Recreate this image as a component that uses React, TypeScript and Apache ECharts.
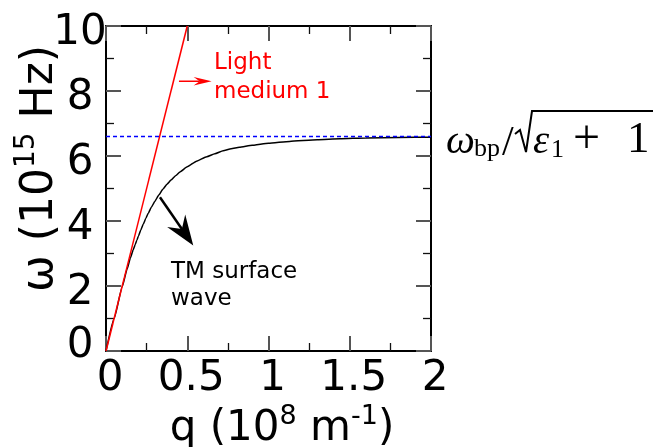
import React, { useEffect, useRef } from "react";
import * as echarts from "echarts";

// TM surface wave dispersion (q in 1e8 m^-1, omega in 1e15 Hz)
const curveQ = [0, 0.05, 0.1, 0.13, 0.15, 0.168, 0.18, 0.19, 0.2, 0.215, 0.23, 0.245, 0.26, 0.28, 0.3, 0.325, 0.35, 0.375, 0.4, 0.43, 0.455, 0.5, 0.557, 0.62, 0.67, 0.721, 0.77, 0.82, 0.9, 1.0, 1.13, 1.3, 1.44, 1.6, 1.8, 2.0];
const curveW = [0, 1.0, 1.98, 2.52, 2.86, 3.12, 3.28, 3.41, 3.54, 3.73, 3.91, 4.08, 4.24, 4.43, 4.6, 4.8, 4.98, 5.13, 5.26, 5.4, 5.51, 5.67, 5.84, 5.98, 6.07, 6.16, 6.22, 6.27, 6.33, 6.39, 6.45, 6.5, 6.53, 6.555, 6.57, 6.58];
// light line in medium 1
const lightQ = [0, 0.5];
const lightW = [0, 10];
// asymptote omega_bp / sqrt(eps1 + 1)
const bpQ = [0, 2];
const bpW = [6.6, 6.6];
// annotation arrows (data coords): [start, tip]
const lightArrow = [[0.449, 8.3], [0.65, 8.3]];
const tmArrow = [[0.332, 4.73], [0.537, 3.25]];

const xTickValues = [0, 0.5, 1, 1.5, 2];
const yTickValues = [0, 2, 4, 6, 8, 10];

const SANS = '"DejaVu Sans", sans-serif';
const SERIF = '"Liberation Serif", serif';

function arrowEls(p0: number[], p1: number[], color: string, width: number, headLen: number, halfW: number, notch: number) {
  const dx = p1[0] - p0[0];
  const dy = p1[1] - p0[1];
  const L = Math.hypot(dx, dy);
  const ux = dx / L, uy = dy / L;
  const nx = -uy, ny = ux;
  const bx = p1[0] - ux * headLen, by = p1[1] - uy * headLen;
  const w1 = [bx + nx * halfW, by + ny * halfW];
  const w2 = [bx - nx * halfW, by - ny * halfW];
  const nt = [p1[0] - ux * notch, p1[1] - uy * notch];
  return [
    { type: "line", silent: true, shape: { x1: p0[0], y1: p0[1], x2: nt[0], y2: nt[1] }, style: { stroke: color, lineWidth: width } },
    { type: "polygon", silent: true, shape: { points: [p1, w1, nt, w2] }, style: { fill: color } },
  ];
}

export default function App() {
  const ref = useRef<HTMLDivElement>(null);
  useEffect(() => {
    const chart = echarts.init(ref.current!, null, { renderer: "svg" });
    const axisLine = { show: true, onZero: false, lineStyle: { color: "#000", width: 2 } };
    const axisTick = { show: true, inside: true, length: 15, lineStyle: { color: "#555", width: 2 } };
    const minorTick = { show: true, splitNumber: 2, length: 8, lineStyle: { color: "#111", width: 1.3 } };
    const xCommon = {
      type: "value", min: xTickValues[0], max: xTickValues[xTickValues.length - 1], interval: 0.5,
      axisLine, axisTick, minorTick, splitLine: { show: false }, minorSplitLine: { show: false },
    };
    const yCommon = {
      type: "value", min: yTickValues[0], max: yTickValues[yTickValues.length - 1], interval: 2,
      axisLine, axisTick, minorTick, splitLine: { show: false }, minorSplitLine: { show: false },
    };
    const option: any = {
      animation: false,
      grid: { left: 106, right: 222, top: 26, bottom: 96 },
      xAxis: [
        {
          ...xCommon, position: "bottom",
          axisLabel: { show: true, interval: 0, margin: 3, fontSize: 42, fontFamily: SANS, color: "#000", padding: [0, 0, 0, 8] },
        },
        { ...xCommon, position: "top", axisLabel: { show: false } },
      ],
      yAxis: [
        {
          ...yCommon, position: "left",
          axisLabel: {
            show: true, interval: 0, margin: 26, align: "center", fontSize: 42, fontFamily: SANS, color: "#000",
            padding: [6, 0, 0, 0],
            formatter: (v: number) => (v === 0 ? "{z|0}" : String(v)),
            rich: { z: { fontSize: 42, fontFamily: SANS, color: "#000", padding: [0, 0, 24, 0] } },
          },
        },
        { ...yCommon, position: "right", axisLabel: { show: false } },
      ],
      series: [
        {
          type: "line", xAxisIndex: 0, yAxisIndex: 0, showSymbol: false, smooth: 0.15, smoothMonotone: "x",
          data: curveQ.map((q, i) => [q, curveW[i]]),
          lineStyle: { color: "#000", width: 1.5 },
        },
        {
          type: "line", xAxisIndex: 0, yAxisIndex: 0, showSymbol: false,
          data: lightQ.map((q, i) => [q, lightW[i]]),
          lineStyle: { color: "#ff0000", width: 1.5 },
        },
        {
          type: "line", xAxisIndex: 0, yAxisIndex: 0, showSymbol: false,
          data: bpQ.map((q, i) => [q, bpW[i]]),
          lineStyle: { color: "#0000ff", width: 1.5, type: [4, 3] },
        },
      ],
    };
    chart.setOption(option);

    const P = (d: number[]) => chart.convertToPixel({ seriesIndex: 0 }, d) as number[];
    const graphics: any[] = [
      ...arrowEls(P(lightArrow[0]), P(lightArrow[1]), "#ff0000", 1.5, 18, 4.2, 12),
      ...arrowEls(P(tmArrow[0]), P(tmArrow[1]), "#000", 2.5, 30, 11, 20),
      {
        type: "text", silent: true, x: 214, y: 46,
        style: { text: "Light\nmedium 1", fill: "#ff0000", fontSize: 23, fontFamily: SANS, lineHeight: 29, align: "left", verticalAlign: "top" },
      },
      {
        type: "text", silent: true, x: 171, y: 256,
        style: { text: "TM surface\nwave", fill: "#000", fontSize: 23, fontFamily: SANS, lineHeight: 27, align: "left", verticalAlign: "top" },
      },
      {
        type: "text", silent: true, x: 282, y: 423.5,
        style: {
          text: "{m|q (10}{s|8}{m| m}{s|-1}{m|)}", align: "center", verticalAlign: "middle",
          rich: {
            m: { fontSize: 42, fontFamily: SANS, fill: "#000", lineHeight: 46, verticalAlign: "bottom" },
            s: { fontSize: 27, fontFamily: SANS, fill: "#000", lineHeight: 27, verticalAlign: "top" },
          },
        },
      },
      {
        type: "text", silent: true, x: 34.5, y: 168.5, rotation: Math.PI / 2,
        style: {
          text: "{m|ω (10}{s|15}{m| Hz)}", align: "center", verticalAlign: "middle",
          rich: {
            m: { fontSize: 44, fontFamily: SANS, fill: "#000", lineHeight: 48, verticalAlign: "bottom" },
            s: { fontSize: 28, fontFamily: SANS, fill: "#000", lineHeight: 28, verticalAlign: "top" },
          },
        },
      },
      // omega_bp / sqrt(eps_1 + 1)
      { type: "text", silent: true, x: 446, y: 138.5, style: { text: "ω", fontSize: 41, fontStyle: "italic", fontFamily: SERIF, fill: "#000", align: "left", verticalAlign: "middle" } },
      { type: "text", silent: true, x: 474, y: 147.5, style: { text: "bp", fontSize: 26, fontFamily: SERIF, fill: "#000", align: "left", verticalAlign: "middle" } },
      { type: "text", silent: true, x: 502, y: 140.5, style: { text: "/", fontSize: 42, fontFamily: SERIF, fill: "#000", align: "left", verticalAlign: "middle" } },
      { type: "polyline", silent: true, shape: { points: [[515, 134], [520, 130], [526, 152], [532, 111], [653, 111]] }, style: { stroke: "#000", lineWidth: 2, fill: null } },
      { type: "text", silent: true, x: 533, y: 138.5, style: { text: "ε", fontSize: 41, fontStyle: "italic", fontFamily: SERIF, fill: "#000", align: "left", verticalAlign: "middle" } },
      { type: "text", silent: true, x: 551, y: 148.5, style: { text: "1", fontSize: 26, fontFamily: SERIF, fill: "#000", align: "left", verticalAlign: "middle" } },
      { type: "text", silent: true, x: 573, y: 136, style: { text: "+", fontSize: 48, fontFamily: SERIF, fill: "#000", align: "left", verticalAlign: "middle" } },
      { type: "text", silent: true, x: 627, y: 136.5, style: { text: "1", fontSize: 45, fontFamily: SERIF, fill: "#000", align: "left", verticalAlign: "middle" } },
    ];
    chart.setOption({ graphic: graphics });
    return () => chart.dispose();
  }, []);
  return <div ref={ref} style={{ position: "fixed", left: 0, top: 0, width: 653, height: 447 }} />;
}
